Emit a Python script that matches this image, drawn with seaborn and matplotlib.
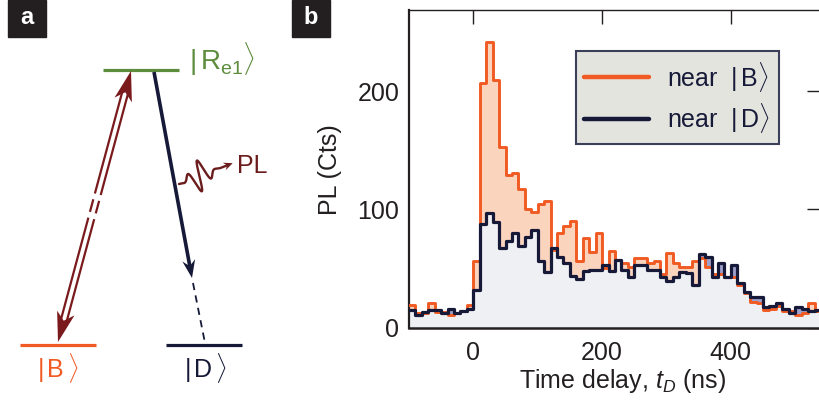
import numpy as np
import matplotlib
matplotlib.use("Agg")
import matplotlib.pyplot as plt
import seaborn as sns
from matplotlib.patches import Polygon, Rectangle
from matplotlib.lines import Line2D

# ---------------- data ----------------
bin_edges_start = -100
bin_width = 10
near_B = [19, 12, 12, 21, 13, 13, 11, 12, 14, 19,
          56, 207, 242, 210, 153, 129, 131, 117, 100, 98,
          105, 107, 66, 80, 86, 90, 56, 76, 64, 80,
          50, 65, 57, 55, 51, 59, 59, 55, 56, 45,
          63, 55, 51, 51, 56, 59, 51, 45, 45, 43,
          43, 36, 29, 22, 21, 15, 16, 18, 14, 14,
          11, 12, 21, 14]
near_D = [15, 11, 13, 15, 15, 12, 16, 12, 14, 16,
          32, 88, 97, 89, 67, 73, 80, 69, 77, 83,
          56, 47, 67, 60, 55, 44, 41, 48, 49, 49,
          53, 48, 57, 49, 43, 53, 53, 49, 49, 43,
          39, 43, 47, 46, 36, 62, 60, 43, 55, 43,
          53, 38, 30, 26, 26, 17, 18, 21, 16, 12,
          17, 16, 14, 15]
x_ticks = [0, 200, 400]
y_ticks = [0, 100, 200]
legend_labels = ["near  $|\\,\\mathrm{B}\\rangle$", "near  $|\\,\\mathrm{D}\\rangle$"]

# ---------------- style ----------------
sns.set_style("white")
plt.rcParams["font.family"] = ["Liberation Sans", "DejaVu Sans"]
plt.rcParams["mathtext.fontset"] = "custom"
plt.rcParams["mathtext.rm"] = "Liberation Sans"
plt.rcParams["mathtext.it"] = "Liberation Sans:italic"
plt.rcParams["mathtext.bf"] = "Liberation Sans:bold"

C_OR = "#f15a22"
C_PEACH = "#fbd4be"
C_NAVY = "#161a38"
C_GREY = "#eff0f3"
C_LAV = "#9ea1cc"
C_RED = "#7a1a1d"
C_GREEN = "#5d8c3c"
C_PL = "#6b1d1d"
C_K = "#231f20"

W, H = 820, 403
fig = plt.figure(figsize=(8.2, 4.03), dpi=100)

# ---------------- panel b ----------------
axb = fig.add_axes([409 / W, (H - 327.5) / H, 412 / W, 317.5 / H])
nb = len(near_B)
edges = bin_edges_start + bin_width * np.arange(nb + 1)
ob = np.append(near_B, near_B[-1]).astype(float)
od = np.append(near_D, near_D[-1]).astype(float)
lo = np.minimum(ob, od)
axb.fill_between(edges, 0, lo, step="post", color=C_GREY, lw=0, zorder=1)
axb.fill_between(edges, lo, ob, step="post", color=C_PEACH, lw=0, zorder=1)
axb.fill_between(edges, lo, od, step="post", color=C_LAV, lw=0, zorder=1)
sns.lineplot(x=edges, y=ob, drawstyle="steps-post", estimator=None, sort=False,
             color=C_OR, lw=2.1, ax=axb, zorder=3)
sns.lineplot(x=edges, y=od, drawstyle="steps-post", estimator=None, sort=False,
             color=C_NAVY, lw=2.3, ax=axb, zorder=4)
axb.set_xlim(-100, 540)
axb.set_ylim(0, 269)
axb.set_xticks(x_ticks)
axb.set_yticks(y_ticks)
axb.tick_params(axis="both", direction="in", length=10, width=1.0, color=C_K,
                top=True, right=True, labelsize=18, labelcolor=C_K)
axb.tick_params(axis="x", pad=10)
axb.tick_params(axis="y", pad=7)
for side, lw in [("left", 1.6), ("bottom", 1.8), ("top", 1.0), ("right", 1.0)]:
    axb.spines[side].set_color(C_K)
    axb.spines[side].set_linewidth(lw)
axb.set_xlabel("Time delay, $t_D$ (ns)", fontsize=18, color=C_K)
axb.set_ylabel("PL (Cts)", fontsize=18, color=C_K)
axb.xaxis.set_label_coords(0.517, -0.125)
axb.yaxis.set_label_coords(-0.163, 0.496)
handles = [Line2D([], [], color=C_OR, lw=3.2), Line2D([], [], color=C_NAVY, lw=3.2)]
leg = axb.legend(handles, legend_labels, loc="upper right", bbox_to_anchor=(0.898, 0.871),
                 borderaxespad=0, fontsize=18, frameon=True, fancybox=False,
                 facecolor="#e4e4df", edgecolor="#3b3f5a", framealpha=1,
                 handlelength=2.6, handletextpad=0.7, labelspacing=0.3, borderpad=0.35)
leg.get_frame().set_linewidth(1.5)
for t in leg.get_texts():
    t.set_color(C_NAVY)

# ---------------- panel a (schematic) ----------------
axa = fig.add_axes([0, 0, 300 / W, 1])
axa.set_xlim(0, 300)
axa.set_ylim(H, 0)
axa.axis("off")

def head(ax, tip, u, length, hw, notch, color):
    tip = np.asarray(tip, float)
    n = np.array([-u[1], u[0]])
    base = tip - u * length
    pts = [tip, base + n * hw, tip - u * notch, base - n * hw]
    ax.add_patch(Polygon(pts, closed=True, color=color, lw=0, zorder=5))

# levels
axa.plot([103, 179], [70, 70], color=C_GREEN, lw=2.3, solid_capstyle="butt")
axa.plot([20, 96], [345, 345], color=C_OR, lw=2.3, solid_capstyle="butt")
axa.plot([166, 242], [345, 345], color=C_NAVY, lw=2.3, solid_capstyle="butt")

# level labels
axa.text(189, 70, r"$|\,\mathrm{R}_{\mathrm{e1}}\rangle$", color=C_GREEN, fontsize=20,
         ha="left", va="baseline")
axa.text(58, 368, r"$|\,\mathrm{B}\,\rangle$", color=C_OR, fontsize=18, ha="center", va="center")
axa.text(205, 368, r"$|\,\mathrm{D}\,\rangle$", color=C_NAVY, fontsize=18, ha="center", va="center")

# double (excitation) arrow
tb = np.array([58.0, 342.0])
tt = np.array([131.0, 71.0])
L = np.hypot(*(tt - tb))
u = (tt - tb) / L
nrm = np.array([-u[1], u[0]])
for a0, a1 in [(20, 128), (134, 147), (153, L - 20)]:
    for s in (-3.0, 3.0):
        p0 = tb + u * a0 + nrm * s
        p1 = tb + u * a1 + nrm * s
        axa.plot([p0[0], p1[0]], [p0[1], p1[1]], color=C_RED, lw=1.6, solid_capstyle="butt")
head(axa, tt, u, 30, 9, 22, C_RED)
head(axa, tb, -u, 30, 9, 22, C_RED)

# decay arrow
ps = np.array([154.0, 72.0])
pt = np.array([192.0, 278.0])
ud = (pt - ps) / np.hypot(*(pt - ps))
pe = pt - ud * 12
axa.plot([ps[0], pe[0]], [ps[1], pe[1]], color=C_NAVY, lw=2.6, solid_capstyle="butt")
head(axa, pt, ud, 18, 6.5, 12, C_NAVY)
axa.plot([193, 205], [283, 343], color=C_NAVY, lw=1.3, ls=(0, (4, 3)))

# PL wiggle
s = np.linspace(0, 1, 600)
p0 = np.array([179.0, 184.0])
p1 = np.array([228.0, 165.0])
dv = p1 - p0
uw = dv / np.hypot(*dv)
nw = np.array([-uw[1], uw[0]])
env = np.exp(-((s - 0.42) / 0.2) ** 2)
disp = 17 * env * np.sin(2 * np.pi * 3.6 * s)
xs = p0[0] + s * dv[0] + disp * nw[0]
ys = p0[1] + s * dv[1] + disp * nw[1]
axa.plot(xs, ys, color=C_PL, lw=1.7)
head(axa, p1 + uw * 5, uw, 9, 4, 6, C_PL)
axa.text(237, 166, "PL", color=C_PL, fontsize=18, ha="left", va="center")

# panel letters
for (x0, lab) in [(8, "a"), (292, "b")]:
    fig.patches.append(Rectangle((x0 / W, 1 - 37 / H), 38 / W, 37 / H,
                                 transform=fig.transFigure, color=C_K, zorder=10))
    fig.text((x0 + 19) / W, 1 - 18 / H, lab, color="white", fontsize=17,
             fontweight="bold", ha="center", va="center", zorder=11)

fig.savefig("out.png", dpi=100)
